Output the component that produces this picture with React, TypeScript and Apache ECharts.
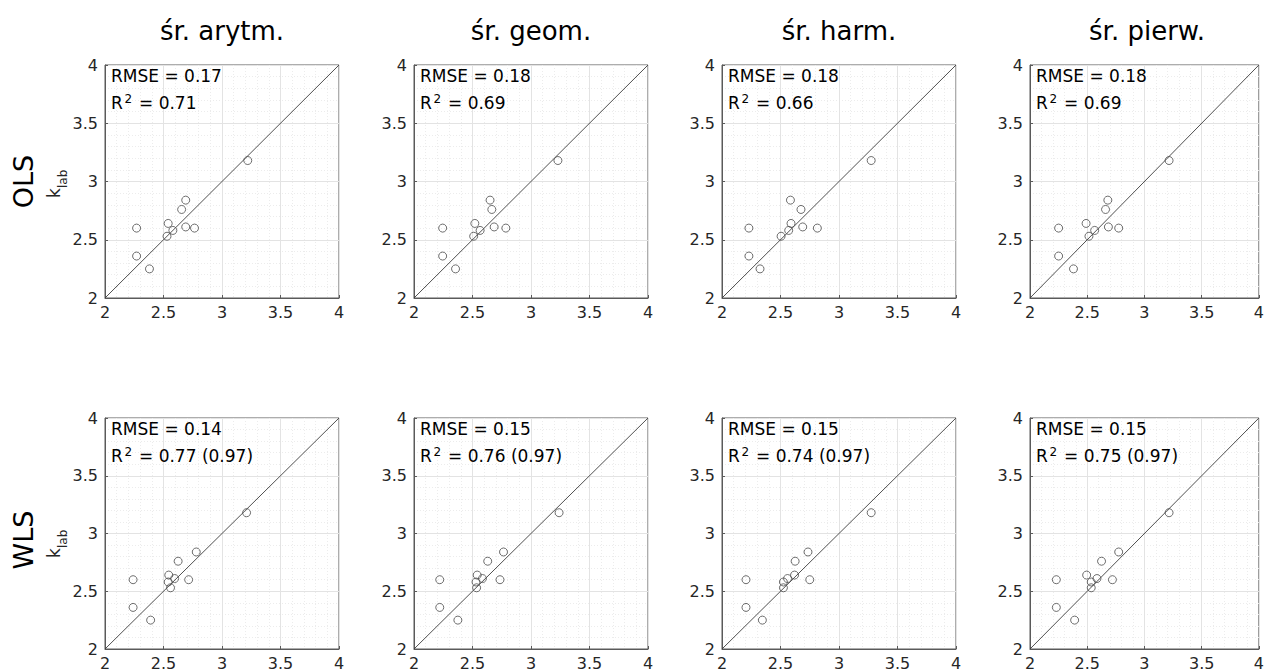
import React, { useEffect, useRef } from "react";
import * as echarts from "echarts";

// ---- data ----
const columnTitles = ["śr. arytm.", "śr. geom.", "śr. harm.", "śr. pierw."];
const rowTitles = ["OLS", "WLS"];
const tickValues = [2, 2.5, 3, 3.5, 4];

// measured k_lab (y values)
const kLab = [3.18, 2.84, 2.76, 2.64, 2.6, 2.58, 2.61, 2.6, 2.53, 2.36, 2.25];

// predicted values (x) for each panel, same order as kLab
const olsAryt = [3.22, 2.69, 2.655, 2.54, 2.27, 2.58, 2.69, 2.765, 2.53, 2.27, 2.38];
const olsGeom = [3.23, 2.65, 2.665, 2.52, 2.245, 2.565, 2.685, 2.785, 2.51, 2.245, 2.355];
const olsHarm = [3.275, 2.585, 2.675, 2.59, 2.23, 2.57, 2.69, 2.815, 2.505, 2.23, 2.325];
const olsPier = [3.215, 2.68, 2.66, 2.49, 2.25, 2.565, 2.685, 2.775, 2.515, 2.25, 2.38];
const wlsAryt = [3.21, 2.78, 2.625, 2.545, 2.24, 2.54, 2.595, 2.715, 2.56, 2.24, 2.39];
const wlsGeom = [3.24, 2.765, 2.63, 2.54, 2.22, 2.53, 2.585, 2.735, 2.535, 2.22, 2.375];
const wlsHarm = [3.275, 2.735, 2.625, 2.62, 2.205, 2.525, 2.56, 2.75, 2.525, 2.205, 2.345];
const wlsPier = [3.215, 2.775, 2.625, 2.495, 2.23, 2.535, 2.585, 2.72, 2.535, 2.23, 2.39];

const olsX = [olsAryt, olsGeom, olsHarm, olsPier];
const wlsX = [wlsAryt, wlsGeom, wlsHarm, wlsPier];

const olsRmse = ["0.17", "0.18", "0.18", "0.18"];
const olsR2 = ["0.71", "0.69", "0.66", "0.69"];
const wlsRmse = ["0.14", "0.15", "0.15", "0.15"];
const wlsR2 = ["0.77 (0.97)", "0.76 (0.97)", "0.74 (0.97)", "0.75 (0.97)"];

const diagonal = [
  [2, 2],
  [4, 4],
];

// ---- layout ----
const colLeft = [105, 414, 722, 1030];
const rowTop = [65, 418];
const panelW = 234;
const panelH = 233;
const FONT = "DejaVu Sans";

export default function App() {
  const ref = useRef<HTMLDivElement>(null);

  useEffect(() => {
    if (!ref.current) return;
    const chart = echarts.init(ref.current, undefined, { renderer: "svg" });

    const grids: any[] = [];
    const xAxes: any[] = [];
    const yAxes: any[] = [];
    const series: any[] = [];
    const graphic: any[] = [];

    const rows = [
      { xs: olsX, rmse: olsRmse, r2: olsR2 },
      { xs: wlsX, rmse: wlsRmse, r2: wlsR2 },
    ];

    const axisCommon = (pos: string, margin: number) => ({
      type: "value",
      min: tickValues[0],
      max: tickValues[tickValues.length - 1],
      interval: 0.5,
      position: pos,
      axisLine: { show: true, lineStyle: { color: "#5a5a5a", width: 1 } },
      axisTick: { show: true, inside: true, length: 3, lineStyle: { color: "#5a5a5a" } },
      minorTick: { show: false, splitNumber: 5 },
      axisLabel: {
        color: "#262626",
        fontSize: 16,
        fontFamily: FONT,
        margin,
        formatter: (v: number) => String(v),
      },
      splitLine: { show: true, lineStyle: { color: "#e3e3e3", width: 1 } },
      minorSplitLine: {
        show: true,
        lineStyle: { color: "#ececec", width: 1, type: [1, 2] },
      },
    });

    let idx = 0;
    rows.forEach((row, r) => {
      row.xs.forEach((xs, c) => {
        const left = colLeft[c];
        const top = rowTop[r];
        grids.push({
          left,
          top,
          width: panelW,
          height: panelH,
          show: true,
          borderColor: "#5a5a5a",
          borderWidth: 1,
          backgroundColor: "transparent",
        });
        xAxes.push({ ...axisCommon("bottom", 6), gridIndex: idx });
        yAxes.push({ ...axisCommon("left", 7), gridIndex: idx });
        series.push({
          type: "line",
          xAxisIndex: idx,
          yAxisIndex: idx,
          data: diagonal,
          symbol: "none",
          lineStyle: { color: "#3c3c3c", width: 0.9 },
          silent: true,
          z: 3,
        });
        series.push({
          type: "scatter",
          xAxisIndex: idx,
          yAxisIndex: idx,
          data: xs.map((x, i) => [x, kLab[i]]),
          symbol: "circle",
          symbolSize: 8,
          itemStyle: {
            color: "rgba(0,0,0,0)",
            borderColor: "#4a4a4a",
            borderWidth: 1,
          },
          z: 4,
        });

        // annotations
        graphic.push({
          type: "text",
          x: left + 6,
          y: top + 11,
          style: {
            text: "RMSE = " + row.rmse[c],
            fontSize: 17,
            fontFamily: FONT,
            fill: "#000",
            verticalAlign: "middle",
          },
          z: 10,
        });
        graphic.push({
          type: "text",
          x: left + 6,
          y: top + 38,
          style: {
            text: "R",
            fontSize: 17,
            fontFamily: FONT,
            fill: "#000",
            verticalAlign: "middle",
          },
          z: 10,
        });
        graphic.push({
          type: "text",
          x: left + 19.5,
          y: top + 34,
          style: {
            text: "2",
            fontSize: 12,
            fontFamily: FONT,
            fill: "#000",
            verticalAlign: "middle",
          },
          z: 10,
        });
        graphic.push({
          type: "text",
          x: left + 34,
          y: top + 38,
          style: {
            text: "= " + row.r2[c],
            fontSize: 17,
            fontFamily: FONT,
            fill: "#000",
            verticalAlign: "middle",
          },
          z: 10,
        });

        if (r === 0) {
          graphic.push({
            type: "text",
            x: left + panelW / 2,
            y: 31,
            style: {
              text: columnTitles[c],
              fontSize: 26,
              fontFamily: FONT,
              fill: "#000",
              align: "center",
              verticalAlign: "middle",
            },
          });
        }
        idx++;
      });
    });

    // row labels
    const rowCenters = [181.5, 540];
    const kBase = [198, 558];
    rowTitles.forEach((t, r) => {
      graphic.push({
        type: "text",
        x: 23,
        y: rowCenters[r],
        rotation: Math.PI / 2,
        style: {
          text: t,
          fontSize: 27,
          fontFamily: FONT,
          fill: "#000",
          align: "center",
          verticalAlign: "middle",
        },
      });
      graphic.push({
        type: "group",
        x: 54,
        y: kBase[r],
        rotation: Math.PI / 2,
        children: [
          {
            type: "text",
            x: 0,
            y: 0,
            style: {
              text: "k",
              fontSize: 17,
              fontFamily: FONT,
              fill: "#262626",
              align: "left",
              verticalAlign: "middle",
            },
          },
          {
            type: "text",
            x: 10,
            y: 9,
            style: {
              text: "lab",
              fontSize: 12,
              fontFamily: FONT,
              fill: "#262626",
              align: "left",
              verticalAlign: "middle",
            },
          },
        ],
      });
    });

    chart.setOption({
      animation: false,
      backgroundColor: "#ffffff",
      grid: grids,
      xAxis: xAxes,
      yAxis: yAxes,
      series,
      graphic,
    });

    return () => chart.dispose();
  }, []);

  return (
    <div
      ref={ref}
      style={{ position: "absolute", left: 0, top: 0, width: 1267, height: 671 }}
    />
  );
}
